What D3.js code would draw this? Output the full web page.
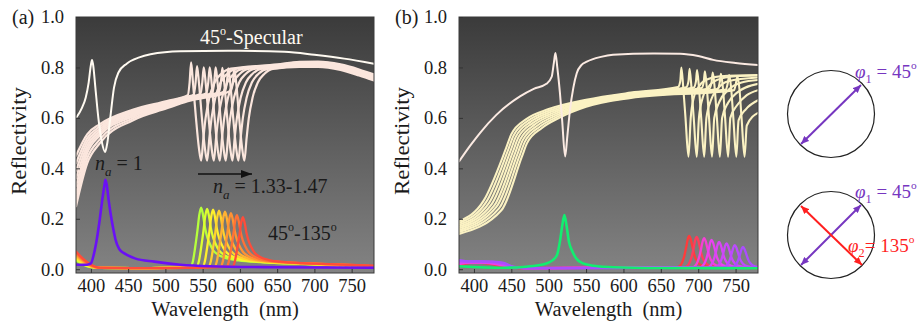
<!DOCTYPE html>
<html>
<head>
<meta charset="utf-8">
<script src="https://cdn.jsdelivr.net/npm/d3@7"></script>
<style>
  body { margin: 0; background: #fff; }
  svg { display: block; }
  svg text { font-family: 'Liberation Serif', 'Times New Roman', Times, 'Nimbus Roman', 'Nimbus Roman No9 L', FreeSerif, Tinos, 'Noto Serif', 'DejaVu Serif', serif; fill: #1a1a1a; }
</style>
</head>
<body>
<svg id="fig" width="917" height="324"></svg>
<script>
// ---------------- data ----------------
const wlTicks = [400, 450, 500, 550, 600, 650, 700, 750];
const reflTicks = [0, 0.2, 0.4, 0.6, 0.8, 1.0];
const naList = ['1.33', '1.35', '1.37', '1.39', '1.41', '1.43', '1.45', '1.47'];

// (a) 45-specular, n_a = 1
const specA1Wl = [380, 388, 393, 397, 400, 401.5, 403, 406, 410, 415, 419, 422, 426, 431, 437, 448, 465, 480, 520, 600, 660, 700, 740, 780];
const specA1R  = [0.60, 0.64, 0.68, 0.74, 0.81, 0.83, 0.81, 0.72, 0.60, 0.50, 0.465, 0.50, 0.60, 0.72, 0.78, 0.815, 0.84, 0.852, 0.864, 0.866, 0.862, 0.85, 0.835, 0.815];

// (a) 45-specular, n_a = 1.33 ... 1.47
const specBgWlA = [380, 395, 412, 456, 502, 530];
const specBgA = [
  [0.45, 0.535, 0.575, 0.632, 0.667, 0.688],
  [0.42, 0.52, 0.566, 0.627, 0.663, 0.685],
  [0.39, 0.505, 0.557, 0.622, 0.659, 0.682],
  [0.36, 0.49, 0.548, 0.617, 0.655, 0.679],
  [0.33, 0.475, 0.539, 0.611, 0.651, 0.676],
  [0.30, 0.46, 0.53, 0.605, 0.647, 0.673],
  [0.275, 0.44, 0.515, 0.598, 0.643, 0.67],
  [0.25, 0.42, 0.50, 0.59, 0.638, 0.666]
];
const specDipA = [548, 556, 565, 573, 581, 590, 598, 606];
const specBaseA = [0.69, 0.692, 0.695, 0.698, 0.70, 0.703, 0.706, 0.708];
const specSpikeA = [0.82, 0.805, 0.80, 0.80, 0.80, 0.798, 0.796, 0.795];
const fanoDxA = [-15.5, -11, -7, -3, 0, 3, 6, 11, 18, 27, 40];
const fanoRA  = [0.74, 0.74, 0.60, 0.48, 0.43, 0.52, 0.60, 0.68, 0.74, 0.775, 0.795];
const specTailWlA = [650, 680, 705, 735, 760, 780];
const specTailA = [
  [0.812, 0.822, 0.823, 0.812, 0.792, 0.772],
  [0.809, 0.82, 0.821, 0.809, 0.789, 0.768],
  [0.806, 0.818, 0.818, 0.806, 0.785, 0.765],
  [0.803, 0.815, 0.815, 0.803, 0.782, 0.762],
  [0.80, 0.812, 0.812, 0.80, 0.779, 0.758],
  [0.797, 0.809, 0.809, 0.797, 0.775, 0.755],
  [0.794, 0.806, 0.806, 0.794, 0.772, 0.751],
  [0.79, 0.802, 0.802, 0.79, 0.768, 0.748]
];

// (a) 45-135 cross, n_a = 1
const crossA1Wl = [380, 395, 400, 404, 408, 412, 415, 418, 419.5, 421.5, 424, 426.5, 430, 433, 438, 445, 449, 460, 485, 520, 560, 650, 780];
const crossA1R  = [0.018, 0.018, 0.023, 0.06, 0.12, 0.20, 0.27, 0.33, 0.355, 0.33, 0.27, 0.22, 0.16, 0.118, 0.08, 0.063, 0.056, 0.042, 0.03, 0.018, 0.012, 0.008, 0.006];

// (a) 45-135 cross, n_a = 1.33 ... 1.47
const crossPeakA = [548, 556, 564, 572, 580, 588, 596, 604];
const crossHeightA = [0.24, 0.235, 0.232, 0.228, 0.224, 0.218, 0.21, 0.202];
const crossColorsA = ['#b6ff3c', '#dcff30', '#fff02c', '#ffd22e', '#ffb232', '#ff9234', '#ff7236', '#ff4c3a'];
const crossLeftWlA = [380, 390, 400, 412];
const crossLeftA = [
  [0.035, 0.018, 0.008, 0.005], [0.04, 0.02, 0.009, 0.005],
  [0.045, 0.023, 0.01, 0.005], [0.05, 0.026, 0.011, 0.005],
  [0.055, 0.03, 0.012, 0.005], [0.06, 0.033, 0.014, 0.005],
  [0.065, 0.036, 0.016, 0.005], [0.07, 0.04, 0.018, 0.006]
];
const crossDxA   = [-14, -11, -8, -5, -2.5, 0, 2.5, 5, 8, 11, 16, 22, 35, 50, 80, 116, 176];
const crossFracA = [0.03, 0.12, 0.35, 0.62, 0.88, 1, 0.88, 0.68, 0.52, 0.42, 0.3, 0.23, 0.16, 0.13, 0.1, 0.08, 0.05];

// (b) 45-specular, n_a = 1
const specB1Wl = [380, 395, 408, 430, 461.6, 480, 497, 504, 507, 509, 511.5, 515, 518, 522, 525, 528.5, 533, 537.5, 544, 551, 570, 586, 640, 676, 700, 720, 750, 780];
const specB1R  = [0.427, 0.49, 0.54, 0.612, 0.685, 0.715, 0.735, 0.763, 0.82, 0.857, 0.80, 0.70, 0.59, 0.447, 0.53, 0.632, 0.72, 0.777, 0.81, 0.823, 0.842, 0.85, 0.855, 0.854, 0.845, 0.83, 0.818, 0.81];

// (b) 45-specular, n_a = 1.33 ... 1.47 : [wavelength, R] before the resonance
const specBgB = [
  [[380, 0.19], [413, 0.272], [443, 0.48], [450, 0.535], [470, 0.595], [500, 0.635], [550, 0.672], [610, 0.7]],
  [[380, 0.183], [416.5, 0.267], [446, 0.475], [453, 0.53], [473, 0.59], [502, 0.63], [550, 0.668], [610, 0.697]],
  [[380, 0.176], [420, 0.262], [449, 0.47], [456, 0.525], [476, 0.585], [504, 0.625], [550, 0.664], [610, 0.694]],
  [[380, 0.169], [423.5, 0.257], [452, 0.465], [459, 0.52], [479, 0.58], [506, 0.62], [550, 0.66], [610, 0.691]],
  [[380, 0.162], [427, 0.252], [455, 0.46], [462, 0.515], [482, 0.575], [508, 0.615], [550, 0.656], [610, 0.688]],
  [[380, 0.155], [430, 0.247], [458, 0.455], [465, 0.51], [485, 0.57], [510, 0.61], [550, 0.652], [610, 0.685]],
  [[380, 0.148], [433.5, 0.241], [461, 0.45], [468, 0.505], [488, 0.565], [512, 0.605], [550, 0.648], [610, 0.682]],
  [[380, 0.14], [437, 0.235], [464, 0.445], [471, 0.50], [491, 0.56], [514, 0.60], [550, 0.644], [610, 0.679]]
];
const specDipB = [687, 698, 708, 718.5, 729, 740, 751, 762];
const specBaseB = [0.722, 0.721, 0.72, 0.718, 0.716, 0.714, 0.712, 0.71];
const specSpikeB = [0.80, 0.795, 0.79, 0.785, 0.78, 0.775, 0.77, 0.765];
const fanoDxB = [-11, -7, -4, 0];
const fanoRB  = [0.745, 0.72, 0.60, 0.446];
// (b) recovery after each dip: [wavelength, R]
const specPostB = [
  [[690, 0.60], [694, 0.68], [700, 0.72], [710, 0.75], [730, 0.765], [780, 0.77]],
  [[701, 0.60], [706, 0.68], [713, 0.72], [725, 0.75], [750, 0.765], [780, 0.768]],
  [[711, 0.60], [717, 0.67], [726, 0.715], [740, 0.745], [780, 0.76]],
  [[721.5, 0.60], [728.5, 0.665], [740, 0.71], [758, 0.74], [780, 0.75]],
  [[732, 0.60], [740, 0.66], [752, 0.70], [780, 0.735]],
  [[743, 0.60], [752, 0.65], [765, 0.69], [780, 0.71]],
  [[754, 0.59], [764, 0.635], [780, 0.67]],
  [[765, 0.57], [780, 0.62]]
];

// (b) 45-135 cross, n_a = 1
const crossB1Wl = [380, 440, 470, 497, 505, 511, 515, 518, 521, 524, 527, 531, 537, 546, 560, 587, 650, 780];
const crossB1R  = [0.012, 0.006, 0.01, 0.023, 0.035, 0.055, 0.11, 0.17, 0.215, 0.17, 0.11, 0.075, 0.042, 0.023, 0.014, 0.008, 0.005, 0.004];

// (b) 45-135 cross, n_a = 1.33 ... 1.47
const crossPeakB = [688, 698, 708, 718, 728, 738, 749, 760];
const crossHeightB = [0.129, 0.125, 0.12, 0.113, 0.105, 0.099, 0.092, 0.085];
const crossColorsB = ['#ff3b3b', '#ff3d5c', '#f63fd6', '#ea42f0', '#da45f6', '#ca48fa', '#bb4bff', '#ab4dff'];
const crossLeftWlB = [380, 395, 410, 425, 440, 452, 470];
const crossLeftB = [
  [0.015, 0.025, 0.025, 0.02, 0.01, 0.006, 0.004], [0.017, 0.025, 0.025, 0.021, 0.012, 0.006, 0.004],
  [0.02, 0.026, 0.026, 0.022, 0.014, 0.007, 0.004], [0.024, 0.027, 0.027, 0.024, 0.016, 0.007, 0.004],
  [0.027, 0.028, 0.028, 0.026, 0.018, 0.008, 0.004], [0.03, 0.029, 0.029, 0.027, 0.02, 0.008, 0.004],
  [0.033, 0.03, 0.03, 0.029, 0.023, 0.009, 0.004], [0.036, 0.031, 0.031, 0.03, 0.025, 0.01, 0.004]
];
const crossDxB   = [-16, -11, -7, -4, -2, 0, 2, 4, 7, 11, 16, 24, 40];
const crossFracB = [0.04, 0.12, 0.35, 0.66, 0.9, 1, 0.9, 0.7, 0.4, 0.2, 0.1, 0.06, 0.04];

// ---------------- drawing ----------------
const FONT = "'Liberation Serif', 'Times New Roman', Times, 'Nimbus Roman', FreeSerif, Tinos, 'Noto Serif', 'DejaVu Serif', serif";
const svg = d3.select('#fig').attr('font-family', FONT);
const defs = svg.append('defs');
const grad = defs.append('linearGradient').attr('id', 'bg')
  .attr('x1', 0).attr('y1', 0).attr('x2', 0).attr('y2', 1);
grad.append('stop').attr('offset', '0%').attr('stop-color', '#3b3b3b');
grad.append('stop').attr('offset', '100%').attr('stop-color', '#838383');

function marker(id, color, w, h) {
  defs.append('marker').attr('id', id)
    .attr('markerUnits', 'userSpaceOnUse')
    .attr('markerWidth', w).attr('markerHeight', h)
    .attr('refX', w).attr('refY', h / 2)
    .attr('orient', 'auto-start-reverse')
    .append('path').attr('d', `M0,0L${w},${h / 2}L0,${h}Z`).attr('fill', color);
}
marker('arrBlack', '#111', 11, 8);
marker('arrPurple', '#7636c0', 8, 7);
marker('arrRed', '#ff1f1f', 8, 7);

const plotTop = 17, plotBottom = 273;

function makePanel(x0, x1, id, letter) {
  const x = d3.scaleLinear().domain([380, 780]).range([x0, x1]);
  const y = d3.scaleLinear().domain([-0.015, 1.0]).range([plotBottom, plotTop]);
  const g = svg.append('g');
  defs.append('clipPath').attr('id', 'clip' + id).append('rect')
    .attr('x', x0).attr('y', plotTop).attr('width', x1 - x0).attr('height', plotBottom - plotTop);
  g.append('rect').attr('x', x0).attr('y', plotTop).attr('width', x1 - x0)
    .attr('height', plotBottom - plotTop).attr('fill', 'url(#bg)');
  const plot = g.append('g').attr('clip-path', `url(#clip${id})`);
  const line = d3.line().x(d => x(d[0])).y(d => y(d[1])).curve(d3.curveMonotoneX);
  return { x, y, g, plot, line, x0, x1, letter };
}

function finishPanel(p) {
  const { x, y, g, x0, x1 } = p;
  g.append('rect').attr('x', x0).attr('y', plotTop).attr('width', x1 - x0)
    .attr('height', plotBottom - plotTop).attr('fill', 'none').attr('stroke', '#3a3a3a').attr('stroke-width', 1);
  const ya = g.append('g').attr('transform', `translate(${x0},0)`)
    .call(d3.axisLeft(y).tickValues(reflTicks).tickFormat(d3.format('.1f')).tickSizeInner(-4).tickSizeOuter(0).tickPadding(12));
  const xa = g.append('g').attr('transform', `translate(0,${plotBottom})`)
    .call(d3.axisBottom(x).tickValues(wlTicks).tickFormat(d3.format('d')).tickSizeInner(-4).tickSizeOuter(0).tickPadding(6));
  [ya, xa].forEach(a => {
    a.attr('font-family', FONT).attr('font-size', 18.5);
    a.select('.domain').remove();
    a.selectAll('line').attr('stroke', '#333');
    a.selectAll('text').attr('fill', '#1a1a1a');
  });
  g.append('text').attr('x', x0 - 64).attr('y', 24).attr('font-size', 20).text(p.letter);
  g.append('text').attr('transform', `translate(${x0 - 50},${141}) rotate(-90)`)
    .attr('text-anchor', 'middle').attr('font-size', 21)
    .attr('textLength', 108).attr('lengthAdjust', 'spacingAndGlyphs').text('Reflectivity');
  g.append('text').attr('x', (x0 + x1) / 2).attr('y', 316).attr('text-anchor', 'middle')
    .attr('font-size', 20.5).attr('xml:space', 'preserve').text('Wavelength  (nm)');
}

function merge(parts) {
  const pts = parts.flat().filter(p => p != null).sort((a, b) => a[0] - b[0]);
  return pts.filter((p, i) => i === 0 || p[0] > pts[i - 1][0] + 0.05);
}
function zipPts(wl, r) { return wl.map((w, i) => [w, r[i]]); }

function draw(p, pts, color, width) {
  p.plot.append('path').datum(pts).attr('d', p.line)
    .attr('fill', 'none').attr('stroke', color).attr('stroke-width', width)
    .attr('stroke-linejoin', 'round').attr('stroke-linecap', 'round');
}

// ---- panel (a)
const A = makePanel(76, 374, 'a', '(a)');

naList.forEach((na, i) => {
  const d = specDipA[i];
  const bg = specBgWlA.map((w, j) => [w, specBgA[i][j]]).filter(q => q[0] < d - 20);
  const fano = [[d - 18, specBaseA[i]], [d - 13.5, specSpikeA[i]]]
    .concat(fanoDxA.map((dx, j) => [d + dx, fanoRA[j]]));
  const tail = specTailWlA.map((w, j) => [w, specTailA[i][j]]).filter(q => q[0] > d + 52);
  draw(A, merge([bg, fano, tail]), '#fbe6dd', 2.2);
});
draw(A, zipPts(specA1Wl, specA1R), '#fffaf1', 2);

naList.forEach((na, i) => {
  const pk = crossPeakA[i];
  const left = crossLeftWlA.map((w, j) => [w, crossLeftA[i][j]]);
  const mid = [[480, 0.004]];
  const peak = crossDxA.map((dx, j) => [pk + dx, crossHeightA[i] * crossFracA[j] + 0.004]);
  draw(A, merge([left, mid, peak]), crossColorsA[i], 2.3);
});
draw(A, zipPts(crossA1Wl, crossA1R), '#6a10f5', 2.6);
finishPanel(A);

// ---- panel (b)
const B = makePanel(459, 758, 'b', '(b)');

naList.forEach((na, i) => {
  const d = specDipB[i];
  const pre = specBgB[i].filter(q => q[0] < d - 16);
  const fano = [[d - 14, specBaseB[i]], [d - 9.5, specSpikeB[i]]]
    .concat(fanoDxB.map((dx, j) => [d + dx, fanoRB[j]]));
  draw(B, merge([pre, fano, specPostB[i]]), '#fbf2c3', 2.1);
});
draw(B, zipPts(specB1Wl, specB1R), '#fbeae2', 2);

naList.forEach((na, i) => {
  const pk = crossPeakB[i];
  const left = crossLeftWlB.map((w, j) => [w, crossLeftB[i][j]]);
  const peak = crossDxB.map((dx, j) => [pk + dx, crossHeightB[i] * crossFracB[j] + 0.003]);
  draw(B, merge([left, peak, [[800, 0.004]]]), crossColorsB[i], 2.3);
});
draw(B, zipPts(crossB1Wl, crossB1R), '#12ee70', 2.6);
finishPanel(B);

// ---- annotations in (a)
function degText(g, xPos, yPos, parts, color, size) {
  const t = g.append('text').attr('x', xPos).attr('y', yPos).attr('font-size', size);
  if (color) t.style('fill', color);
  parts.forEach(pt => {
    const s = t.append('tspan').text(pt.t);
    if (pt.sup) s.attr('font-size', size * 0.6).attr('dy', -size * 0.45);
    if (pt.down) s.attr('dy', size * 0.45);
    if (pt.sub) s.attr('font-size', size * 0.65).attr('dy', size * 0.28);
    if (pt.up) s.attr('dy', -size * 0.28);
    if (pt.it) s.attr('font-style', 'italic');
  });
  return t;
}

degText(svg, 200, 44, [{ t: '45' }, { t: 'o', sup: true }, { t: '-Specular', down: true }], '#fffaf1', 20);
degText(svg, 95, 170, [{ t: 'n', it: true }, { t: 'a', it: true, sub: true }, { t: ' = 1', up: true }], null, 20);
svg.append('line').attr('x1', 198).attr('y1', 174).attr('x2', 252).attr('y2', 174)
  .attr('stroke', '#111').attr('stroke-width', 1.5).attr('marker-end', 'url(#arrBlack)');
degText(svg, 213, 193, [{ t: 'n', it: true }, { t: 'a', it: true, sub: true }, { t: ' = 1.33-1.47', up: true }], null, 20);
degText(svg, 268, 240, [{ t: '45' }, { t: 'o', sup: true }, { t: '-135', down: true }, { t: 'o', sup: true }], null, 20);

// ---- polarisation sketches
const purple = '#7636c0', red = '#ff1f1f';
svg.append('circle').attr('cx', 831).attr('cy', 114).attr('r', 43.5)
  .attr('fill', 'none').attr('stroke', '#222').attr('stroke-width', 1.2);
svg.append('line').attr('x1', 801).attr('y1', 144).attr('x2', 861).attr('y2', 85)
  .attr('stroke', purple).attr('stroke-width', 2)
  .attr('marker-start', 'url(#arrPurple)').attr('marker-end', 'url(#arrPurple)');
degText(svg, 855, 78, [{ t: 'φ', it: true }, { t: '1', sub: true }, { t: ' = 45', up: true }, { t: 'o', sup: true }], purple, 19);

svg.append('circle').attr('cx', 831).attr('cy', 235).attr('r', 43.5)
  .attr('fill', 'none').attr('stroke', '#222').attr('stroke-width', 1.2);
svg.append('line').attr('x1', 801).attr('y1', 265).attr('x2', 861).attr('y2', 205)
  .attr('stroke', purple).attr('stroke-width', 2)
  .attr('marker-start', 'url(#arrPurple)').attr('marker-end', 'url(#arrPurple)');
svg.append('line').attr('x1', 801).attr('y1', 206).attr('x2', 862).attr('y2', 265)
  .attr('stroke', red).attr('stroke-width', 2)
  .attr('marker-start', 'url(#arrRed)').attr('marker-end', 'url(#arrRed)');
degText(svg, 855, 198, [{ t: 'φ', it: true }, { t: '1', sub: true }, { t: ' = 45', up: true }, { t: 'o', sup: true }], purple, 19);
degText(svg, 848, 252, [{ t: 'φ', it: true }, { t: '2', sub: true }, { t: '= 135', up: true }, { t: 'o', sup: true }], red, 19);
</script>
</body>
</html>
